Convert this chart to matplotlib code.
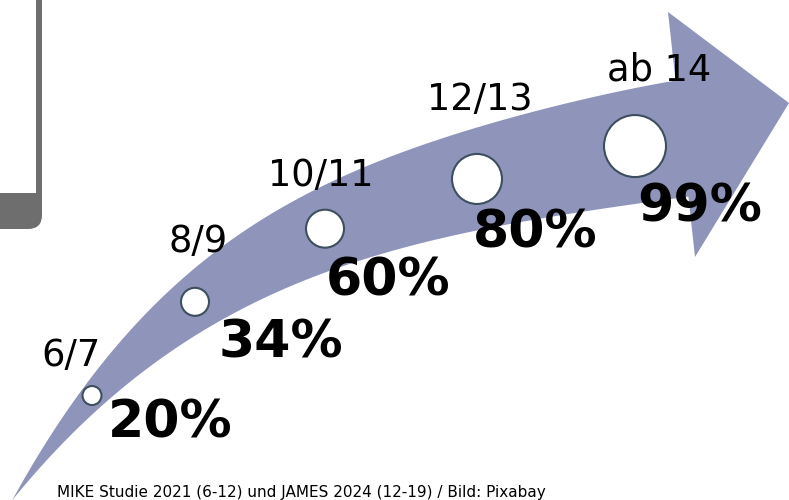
import numpy as np
import matplotlib.pyplot as plt
from matplotlib.patches import Polygon, Circle, FancyBboxPatch, Rectangle

# Anteil nach Alter
altersgruppen = ['6/7', '8/9', '10/11', '12/13', 'ab 14']
anteile = [20, 34, 60, 80, 99]
quelle = 'MIKE Studie 2021 (6-12) und JAMES 2024 (12-19) / Bild: Pixabay'

# Layout (Pixel, y nach unten)
kreis_x = [92, 195, 325, 477, 635]
kreis_r = [9.5, 14, 19, 25, 31]
label_pos = [(71, 355), (198, 241), (321, 175), (480, 100), (659, 70)]
prozent_pos = [(170, 423), (281, 343), (388, 281), (535, 234), (700, 208)]

ARROW = '#8f94ba'
RAND = '#3d4f5f'

# Kanten des Pfeils (gemessen)
oben_x = [12, 37, 67, 100, 150, 200, 250, 300, 350, 400, 500, 600, 675.5]
oben_y = [498, 463, 410, 362, 310, 264, 229, 198, 173, 152, 120, 97, 80]
unten_x = [12, 33, 67, 100, 160, 200, 250, 300, 350, 400, 500, 580, 637, 688.4]
unten_y = [498, 480, 437, 407, 360, 331, 306, 283, 263, 248, 227, 212, 203, 197]

po = np.polyfit(oben_x, oben_y, 4)
pu = np.polyfit(unten_x, unten_y, 4)

fig = plt.figure(figsize=(7.89, 5.0), dpi=100)
ax = fig.add_axes([0, 0, 1, 1])
ax.set_xlim(0, 789)
ax.set_ylim(500, 0)
ax.axis('off')

# graue Box oben links
ax.add_patch(FancyBboxPatch((-60, -60), 102, 289,
                            boxstyle='round,pad=0,rounding_size=14',
                            fc='#6e6e6e', ec='none'))
ax.add_patch(Rectangle((-60, -60), 96, 253, fc='white', ec='none'))

# Pfeil
xo = np.linspace(12, 675.5, 200)
xu = np.linspace(688.4, 12, 200)
pts = list(zip(xo, np.polyval(po, xo)))
pts += [(668, 12), (789, 103), (695, 257)]
pts += list(zip(xu, np.polyval(pu, xu)))
ax.add_patch(Polygon(pts, closed=True, fc=ARROW, ec='none'))

for i, (lab, wert) in enumerate(zip(altersgruppen, anteile)):
    cx = kreis_x[i]
    cy = (np.polyval(po, cx) + np.polyval(pu, cx)) / 2
    ax.add_patch(Circle((cx, cy), kreis_r[i], fc='white', ec=RAND, lw=1.5, zorder=3))
    ax.text(*label_pos[i], lab, fontsize=26.5, ha='center', va='center',
            color='black', zorder=4)
    ax.text(*prozent_pos[i], f'{wert}%', fontsize=37.5, fontweight='bold',
            ha='center', va='center', color='black', zorder=4)

ax.text(57, 492, quelle, fontsize=11, ha='left', va='center', color='black')

fig.savefig('out.png', dpi=100)
